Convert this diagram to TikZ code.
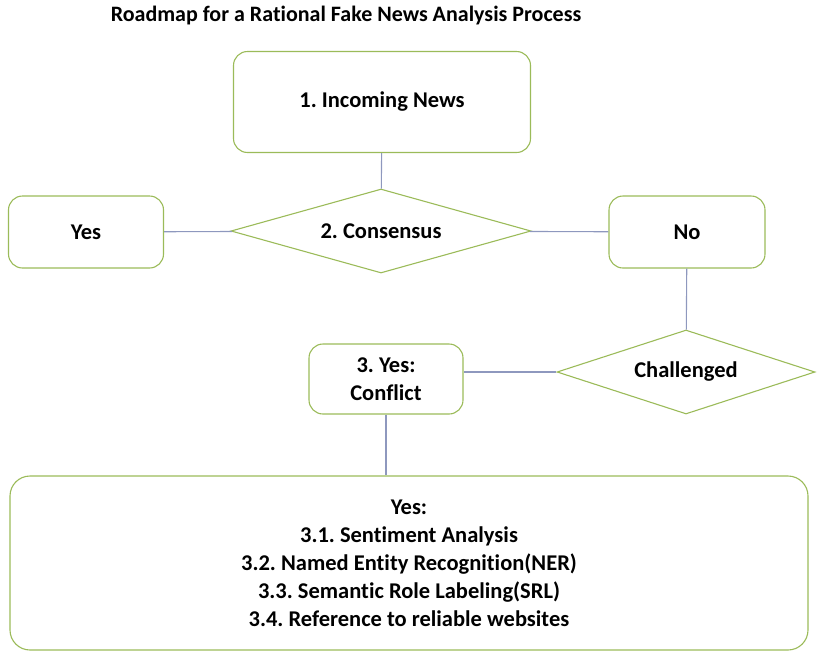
\documentclass[tikz,border=0pt]{standalone}
\usepackage{fontspec}
\setmainfont{Carlito}[Ligatures=CommonOff]
\frenchspacing
\usetikzlibrary{shapes.geometric,positioning}
\definecolor{boxgreen}{RGB}{155,187,89}
\definecolor{linkblue}{RGB}{142,152,190}
\tikzset{x=1pt,y=-1pt,
    every node/.style={font=\bfseries\fontsize{22.5}{28}\selectfont, align=center},
    stepbox/.style={draw=boxgreen, line width=1.1pt, rounded corners=14pt, inner sep=0pt},
    choice/.style={draw=boxgreen, line width=1.1pt, diamond, aspect=3.57, inner sep=0pt},
    link/.style={draw=linkblue, line width=1.1pt},
    }

\begin{document}
\begin{tikzpicture}
	\useasboundingbox (0,0) rectangle (825,654);
	\node[font=\bfseries\fontsize{22}{26}\selectfont] (title) at (346,16) {Roadmap for a Rational Fake News Analysis Process};
	% top row
	\node[stepbox, minimum width=297pt, minimum height=101pt] (news) at (382,102) {1. Incoming News};
	\node[choice, minimum width=300pt, minimum height=84pt] (consensus) at (381,231) {2. Consensus};
	\node[stepbox, minimum width=155pt, minimum height=72pt] (yes) at (86,232) {Yes};
	\node[stepbox, minimum width=156pt, minimum height=72pt] (no) at (687,232) {No};
	% second row
	\node[choice, minimum width=258pt, minimum height=84pt] (challenged) at (686,372) {Challenged};
	\node[stepbox, minimum width=154pt, minimum height=70pt] (conflict) at (386,379) {3. Yes:\\Conflict};
	% methods
	\node[stepbox, rounded corners=20pt, minimum width=798pt, minimum height=174pt] (methods) at (409,563)
		{Yes:\\3.1. Sentiment Analysis\\3.2. Named Entity Recognition(NER)\\3.3. Semantic Role Labeling(SRL)\\3.4. Reference to reliable websites};
	% links
	\draw[link] (news) -- (consensus);
	\draw[link] (consensus) -- (yes);
	\draw[link] (consensus) -- (no);
	\draw[link] (no) -- (challenged);
	\draw[link] (challenged.west) -- (challenged.west -| conflict.east);
	\draw[link] (conflict) -- (conflict |- methods.north);
\end{tikzpicture}
\end{document}
